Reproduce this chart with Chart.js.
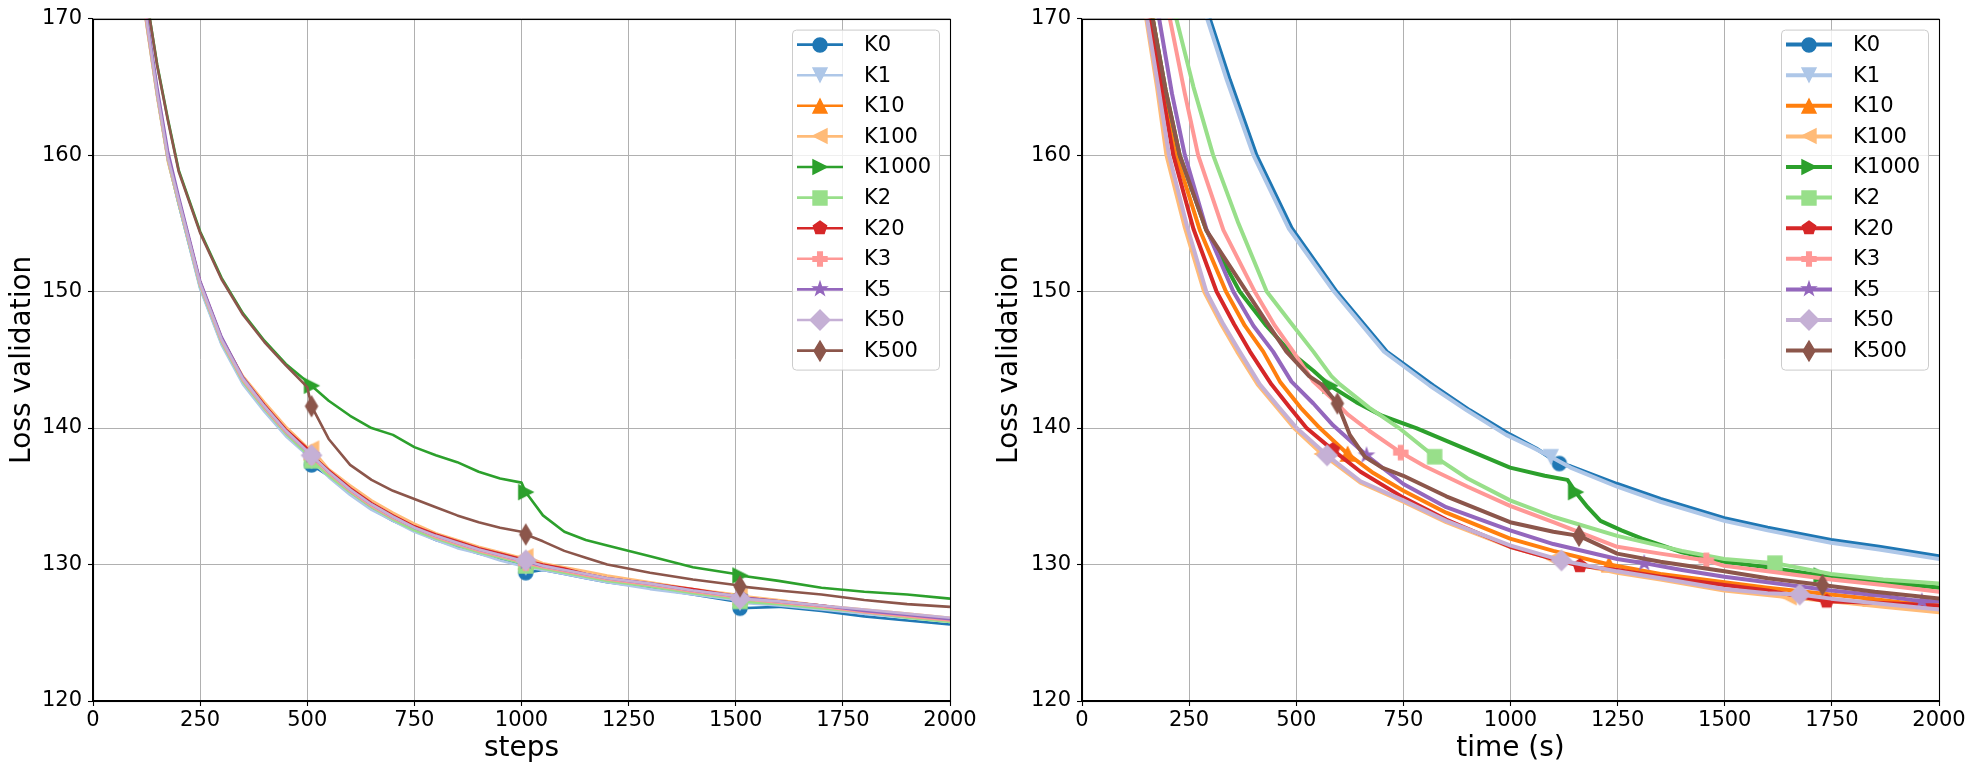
<!DOCTYPE html>
<html>
<head>
<meta charset="utf-8">
<script src="https://cdn.jsdelivr.net/npm/chart.js@4.4.1/dist/chart.umd.min.js"></script>
<style>
  html, body { margin: 0; padding: 0; background: #fff; }
  #wrap { position: relative; width: 1975px; height: 774px; }
  .pane { position: absolute; top: 0; height: 774px; }
  #leftPane { left: 0; width: 987px; }
  #rightPane { left: 987px; width: 988px; }
</style>
</head>
<body>
<div id="wrap">
  <div class="pane" id="leftPane"><canvas id="stepsChart"></canvas></div>
  <div class="pane" id="rightPane"><canvas id="timeChart"></canvas></div>
</div>
<script>
// ---- series ----
const seriesNames = ['K0', 'K1', 'K10', 'K100', 'K1000', 'K2', 'K20', 'K3', 'K5', 'K50', 'K500'];
const seriesColors = ['#1f77b4', '#aec7e8', '#ff7f0e', '#ffbb78', '#2ca02c', '#98df8a',
                      '#d62728', '#ff9896', '#9467bd', '#c5b0d5', '#8c564b'];
const seriesMarkers = ['o', 'v', '^', '<', '>', 's', 'p', 'P', '*', 'D', 'd'];

// ---- left plot: loss vs steps ----
const steps = [100, 125, 150, 175, 200, 250, 300, 350, 400, 450, 500, 510, 550, 600, 650, 700, 750, 800, 850,
               900, 950, 1000, 1010, 1050, 1100, 1150, 1200, 1300, 1400, 1500, 1510, 1600, 1700, 1800, 1900, 2000, 2010];
const stepMarks = [510, 1010, 1510, 2010];

const stepLossK0 = [175.3, 169.6, 164.3, 159.6, 156.4, 150.3, 146.2, 143.3, 141.3, 139.5, 138.1, 137.3, 136.5, 135.2, 134.1, 133.2, 132.5, 131.8, 131.3,
                    130.8, 130.4, 130.0, 129.4, 129.6, 129.3, 129.0, 128.7, 128.3, 127.8, 127.3, 126.8, 126.9, 126.6, 126.2, 125.9, 125.6, 125.5];
const stepLossK1 = [175.4, 169.7, 164.3, 159.6, 156.4, 150.2, 146.1, 143.2, 141.2, 139.4, 138.0, 137.6, 136.4, 135.1, 134.0, 133.2, 132.4, 131.8, 131.2,
                    130.8, 130.3, 129.9, 129.8, 129.6, 129.3, 129.0, 128.7, 128.2, 127.8, 127.4, 127.2, 127.0, 126.7, 126.4, 126.1, 125.9, 125.8];
const stepLossK10 = [175.6, 169.9, 164.6, 159.9, 156.8, 150.7, 146.6, 143.7, 141.7, 139.9, 138.4, 138.2, 136.8, 135.5, 134.4, 133.6, 132.8, 132.1, 131.6,
                     131.1, 130.7, 130.3, 130.2, 129.9, 129.6, 129.3, 129.0, 128.6, 128.1, 127.7, 127.6, 127.3, 127.0, 126.6, 126.3, 126.0, 126.0];
const stepLossK100 = [175.2, 169.5, 164.2, 159.5, 156.5, 150.6, 146.5, 143.8, 141.9, 140.1, 138.6, 138.5, 137.0, 135.8, 134.7, 133.8, 133.0, 132.3, 131.8,
                      131.3, 130.9, 130.5, 130.6, 130.1, 129.8, 129.5, 129.2, 128.7, 128.2, 127.8, 127.7, 127.4, 127.0, 126.7, 126.4, 126.1, 126.1];
const stepLossK1000 = [177.0, 171.5, 166.6, 162.6, 158.9, 154.4, 151.0, 148.4, 146.4, 144.7, 143.4, 143.1, 142.0, 140.9, 140.0, 139.5, 138.6, 138.0, 137.5,
                       136.8, 136.3, 136.0, 135.3, 133.6, 132.4, 131.8, 131.4, 130.6, 129.8, 129.3, 129.2, 128.8, 128.3, 128.0, 127.8, 127.5, 127.3];
const stepLossK2 = [175.5, 169.8, 164.4, 159.7, 156.5, 150.4, 146.3, 143.4, 141.4, 139.6, 138.1, 137.6, 136.5, 135.3, 134.2, 133.3, 132.5, 131.9, 131.4,
                    130.9, 130.5, 130.1, 129.9, 129.7, 129.4, 129.1, 128.8, 128.4, 127.9, 127.5, 127.3, 127.1, 126.8, 126.5, 126.1, 125.8, 125.6];
const stepLossK20 = [175.6, 169.9, 164.6, 159.9, 156.8, 150.7, 146.6, 143.7, 141.7, 139.9, 138.5, 138.0, 136.9, 135.6, 134.5, 133.6, 132.8, 132.2, 131.7,
                     131.2, 130.8, 130.4, 130.3, 130.0, 129.7, 129.3, 129.0, 128.6, 128.2, 127.7, 127.6, 127.3, 127.0, 126.6, 126.3, 126.0, 126.0];
const stepLossK3 = [175.5, 169.8, 164.5, 159.8, 156.6, 150.5, 146.4, 143.5, 141.5, 139.7, 138.3, 137.9, 136.7, 135.4, 134.3, 133.4, 132.7, 132.0, 131.5,
                    131.0, 130.6, 130.2, 130.1, 129.8, 129.5, 129.2, 128.9, 128.5, 128.0, 127.6, 127.5, 127.2, 126.9, 126.5, 126.2, 125.9, 125.9];
const stepLossK5 = [176.0, 170.3, 165.0, 160.3, 157.0, 150.8, 146.7, 143.7, 141.6, 139.8, 138.3, 138.0, 136.8, 135.5, 134.4, 133.5, 132.7, 132.1, 131.6,
                    131.1, 130.7, 130.3, 130.2, 129.9, 129.6, 129.3, 129.0, 128.6, 128.1, 127.7, 127.6, 127.3, 127.0, 126.6, 126.3, 126.0, 126.0];
const stepLossK50 = [175.6, 169.9, 164.5, 159.8, 156.7, 150.6, 146.5, 143.6, 141.6, 139.8, 138.3, 138.0, 136.8, 135.5, 134.4, 133.5, 132.7, 132.1, 131.6,
                     131.1, 130.7, 130.3, 130.3, 129.9, 129.6, 129.3, 129.0, 128.6, 128.1, 127.7, 127.5, 127.3, 127.0, 126.7, 126.4, 126.1, 126.0];
const stepLossK500 = [177.0, 171.5, 166.5, 162.5, 158.8, 154.3, 150.9, 148.3, 146.3, 144.6, 143.0, 141.6, 139.2, 137.3, 136.2, 135.4, 134.8, 134.2, 133.6,
                      133.1, 132.7, 132.4, 132.2, 131.7, 131.0, 130.5, 130.0, 129.4, 128.9, 128.5, 128.4, 128.1, 127.8, 127.4, 127.1, 126.9, 126.8];

// ---- right plot: loss vs wall time (s) ----
const timeK0 = [265, 298, 345, 407, 490, 594, 711, 820, 905, 1000, 1060, 1114, 1140, 1249, 1350, 1499, 1600, 1748, 1860, 2002, 2040];
const timeLossK0 = [175.0, 170.0, 165.5, 160.0, 154.6, 150.0, 145.6, 143.1, 141.3, 139.5, 138.5, 137.4, 137.2, 135.9, 134.8, 133.4, 132.7, 131.8, 131.3, 130.6, 130.5];
const timeMarksK0 = [1114];

const timeK1 = [258, 292, 338, 400, 483, 588, 705, 812, 898, 990, 1050, 1094, 1140, 1249, 1350, 1499, 1600, 1748, 1860, 2002, 2040];
const timeLossK1 = [175.0, 170.0, 165.5, 160.0, 154.6, 150.0, 145.6, 143.1, 141.3, 139.5, 138.6, 137.9, 137.1, 135.7, 134.6, 133.2, 132.5, 131.6, 131.1, 130.4, 130.3];
const timeMarksK1 = [1094];

const timeK10 = [140, 165, 192, 220, 275, 336, 380, 423, 462, 510, 555, 620, 680, 750, 850, 999, 1100, 1230, 1350, 1499, 1600, 1748, 1840, 1920, 2002, 2040];
const timeLossK10 = [175.0, 170.0, 165.0, 160.0, 154.5, 150.0, 147.5, 145.6, 143.4, 141.5, 140.0, 138.1, 136.7, 135.4, 133.8, 131.9, 131.0, 130.0, 129.3, 128.7, 128.3, 127.8, 127.5, 127.2, 127.0, 126.9];
const timeMarksK10 = [620, 1230, 1840];

const timeK100 = [125, 150, 175, 197, 240, 285, 325, 362, 410, 455, 495, 560, 650, 750, 850, 999, 1100, 1249, 1350, 1499, 1650, 1748, 1870, 2002, 2040];
const timeLossK100 = [175.0, 170.0, 165.0, 160.0, 154.7, 150.0, 147.6, 145.6, 143.2, 141.5, 140.0, 138.1, 136.0, 134.6, 133.1, 131.3, 130.4, 129.4, 128.9, 128.1, 127.6, 127.3, 126.9, 126.5, 126.4];
const timeMarksK100 = [560, 1100, 1650];

const timeK1000 = [140, 165, 195, 228, 290, 368, 430, 485, 540, 579, 640, 700, 780, 870, 999, 1080, 1133, 1152, 1180, 1210,
                   1259, 1307, 1400, 1499, 1600, 1725, 1850, 2002, 2040];
const timeLossK1000 = [175.0, 170.0, 164.8, 160.0, 154.5, 150.0, 147.5, 145.6, 144.2, 143.1, 141.9, 140.9, 140.0, 138.8, 137.1, 136.5, 136.2, 135.3, 134.2, 133.2,
                       132.5, 131.9, 130.9, 130.2, 129.8, 129.2, 128.8, 128.3, 128.2];
const timeMarksK1000 = [579, 1152, 1725];

const timeK2 = [190, 220, 260, 306, 365, 431, 485, 540, 582, 602, 670, 740, 823, 900, 999, 1100, 1249, 1400, 1499, 1617, 1748, 1870, 2002, 2040];
const timeLossK2 = [175.0, 170.0, 165.0, 160.0, 155.0, 150.0, 147.8, 145.6, 143.8, 143.2, 141.5, 140.0, 137.9, 136.3, 134.7, 133.5, 132.1, 131.0, 130.4, 130.1, 129.3, 128.9, 128.6, 128.5];
const timeMarksK2 = [823, 1617];

const timeK20 = [133, 158, 185, 213, 260, 314, 355, 392, 442, 485, 524, 585, 650, 750, 850, 999, 1100, 1162, 1249, 1350, 1499, 1600, 1738, 1850, 2002, 2040];
const timeLossK20 = [175.0, 170.0, 165.0, 160.0, 154.6, 150.0, 147.6, 145.6, 143.2, 141.5, 140.0, 138.4, 136.8, 134.9, 133.3, 131.3, 130.4, 129.9, 129.6, 129.1, 128.5, 128.1, 127.3, 127.2, 127.0, 126.9];
const timeMarksK20 = [585, 1162, 1738];

const timeK3 = [175, 205, 240, 271, 330, 403, 450, 493, 540, 582, 620, 670, 744, 800, 900, 999, 1100, 1249, 1350, 1457, 1499, 1600, 1748, 1870, 2002, 2040];
const timeLossK3 = [175.0, 170.0, 164.5, 160.0, 154.5, 150.0, 147.5, 145.6, 143.4, 142.2, 141.0, 139.8, 138.2, 137.2, 135.7, 134.3, 133.1, 131.3, 130.8, 130.3, 129.9, 129.5, 128.9, 128.5, 128.0, 127.9];
const timeMarksK3 = [744, 1457];

const timeK5 = [155, 180, 210, 240, 290, 353, 400, 446, 489, 540, 586, 664, 750, 850, 999, 1100, 1249, 1312, 1400, 1499, 1600, 1748, 1870, 1960, 2002, 2040];
const timeLossK5 = [175.0, 170.0, 164.5, 160.0, 154.6, 150.0, 147.5, 145.6, 143.4, 141.8, 140.2, 138.0, 135.9, 134.2, 132.5, 131.5, 130.4, 130.1, 129.6, 129.1, 128.7, 128.1, 127.7, 127.3, 127.3, 127.2];
const timeMarksK5 = [664, 1312, 1960];

const timeK50 = [127, 152, 178, 203, 245, 290, 330, 368, 415, 460, 501, 572, 650, 750, 850, 999, 1119, 1249, 1350, 1499, 1600, 1675, 1748, 1870, 2002, 2040];
const timeLossK50 = [175.0, 170.0, 165.0, 160.0, 154.8, 150.0, 147.6, 145.6, 143.2, 141.5, 140.0, 138.0, 136.1, 134.7, 133.2, 131.4, 130.3, 129.5, 129.0, 128.2, 127.9, 127.8, 127.5, 127.1, 126.7, 126.6];
const timeMarksK50 = [572, 1119, 1675];

const timeK500 = [140, 165, 195, 228, 290, 384, 430, 477, 530, 559, 596, 625, 660, 700, 750, 850, 999, 1100, 1160, 1249, 1350, 1499, 1600, 1728, 1850, 2002, 2040];
const timeLossK500 = [175.0, 170.0, 164.8, 160.0, 154.5, 150.0, 147.8, 145.6, 143.8, 143.2, 141.8, 139.5, 137.9, 137.1, 136.5, 135.0, 133.1, 132.4, 132.1, 130.8, 130.2, 129.5, 129.0, 128.5, 128.0, 127.5, 127.4];
const timeMarksK500 = [596, 1160, 1728];

// axis ticks
const xTickStep = 250;
const yTicks = [120, 130, 140, 150, 160, 170];

// tables the chart code walks over (same order as seriesNames)
const stepLoss = [stepLossK0, stepLossK1, stepLossK10, stepLossK100, stepLossK1000, stepLossK2,
                  stepLossK20, stepLossK3, stepLossK5, stepLossK50, stepLossK500];
const times = [timeK0, timeK1, timeK10, timeK100, timeK1000, timeK2, timeK20, timeK3, timeK5, timeK50, timeK500];
const timeLoss = [timeLossK0, timeLossK1, timeLossK10, timeLossK100, timeLossK1000, timeLossK2,
                  timeLossK20, timeLossK3, timeLossK5, timeLossK50, timeLossK500];
const timeMarks = [timeMarksK0, timeMarksK1, timeMarksK10, timeMarksK100, timeMarksK1000, timeMarksK2,
                   timeMarksK20, timeMarksK3, timeMarksK5, timeMarksK50, timeMarksK500];

// ---- matplotlib-like marker glyphs ----
const MS = 14;   // marker size in px

function polyPath(g, pts) {
  g.moveTo(pts[0][0], pts[0][1]);
  for (let i = 1; i < pts.length; i++) g.lineTo(pts[i][0], pts[i][1]);
  g.closePath();
}

function regularPts(n, r, inner) {
  const pts = [];
  const count = inner ? n * 2 : n;
  for (let i = 0; i < count; i++) {
    const a = -Math.PI / 2 + i * Math.PI * 2 / count;
    const rr = inner && i % 2 ? r * inner : r;
    pts.push([rr * Math.cos(a), rr * Math.sin(a)]);
  }
  return pts;
}

function makeMarker(shape, color) {
  const n = 28;
  const c = document.createElement('canvas');
  c.width = n; c.height = n;
  const g = c.getContext('2d');
  g.translate(n / 2, n / 2);
  g.fillStyle = color;
  g.strokeStyle = color;
  g.lineWidth = 1.4;
  g.lineJoin = 'miter';
  const h = MS / 2;
  const d = MS * Math.SQRT1_2;
  g.beginPath();
  switch (shape) {
    case 'o': g.arc(0, 0, h, 0, Math.PI * 2); break;
    case '^': polyPath(g, [[0, -h], [-h, h], [h, h]]); break;
    case 'v': polyPath(g, [[0, h], [-h, -h], [h, -h]]); break;
    case '<': polyPath(g, [[-h, 0], [h, -h], [h, h]]); break;
    case '>': polyPath(g, [[h, 0], [-h, -h], [-h, h]]); break;
    case 's': polyPath(g, [[-h, -h], [h, -h], [h, h], [-h, h]]); break;
    case 'D': polyPath(g, [[0, -d], [d, 0], [0, d], [-d, 0]]); break;
    case 'd': polyPath(g, [[0, -d], [0.6 * d, 0], [0, d], [-0.6 * d, 0]]); break;
    case 'p': polyPath(g, regularPts(5, h)); break;
    case '*': polyPath(g, regularPts(5, h, 0.381966)); break;
    case 'P': {
      const a = MS / 6, b = MS / 2;
      polyPath(g, [[-a, -b], [a, -b], [a, -a], [b, -a], [b, a], [a, a], [a, b], [-a, b], [-a, a], [-b, a], [-b, -a], [-a, -a]]);
      break;
    }
  }
  g.fill();
  g.stroke();
  return c;
}

const markerImgs = seriesNames.map((_, i) => makeMarker(seriesMarkers[i], seriesColors[i]));

// ---- plugins ----
const framePlugin = {
  id: 'frame',
  afterDatasetsDraw(chart) {
    const g = chart.ctx, a = chart.chartArea;
    g.save();
    g.strokeStyle = '#000';
    g.lineWidth = 1.1;
    g.strokeRect(Math.round(a.left) + 0.5, Math.round(a.top) + 0.5,
                 Math.round(a.right - a.left), Math.round(a.bottom - a.top));
    g.restore();
  }
};

function boxLegend(lineWidth) {
  return {
    id: 'boxLegend',
    afterDraw(chart) {
      const g = chart.ctx, a = chart.chartArea;
      const w = 147, h = 340, rowH = 30.6;
      const x0 = a.right - 11 - w, y0 = a.top + 11;
      g.save();
      g.beginPath();
      g.roundRect(x0 + 0.5, y0 + 0.5, w, h, 4);
      g.fillStyle = 'rgba(255,255,255,0.8)';
      g.fill();
      g.strokeStyle = '#cccccc';
      g.lineWidth = 1;
      g.stroke();
      chart.data.datasets.forEach((ds, i) => {
        const cy = y0 + 15 + i * rowH;
        g.beginPath();
        g.moveTo(x0 + 5, cy);
        g.lineTo(x0 + 51, cy);
        g.strokeStyle = ds.borderColor;
        g.lineWidth = lineWidth;
        g.stroke();
        const img = markerImgs[i];
        g.drawImage(img, Math.round(x0 + 28 - img.width / 2), Math.round(cy - img.height / 2));
        g.fillStyle = '#000';
        g.font = '21px "DejaVu Sans"';
        g.textBaseline = 'middle';
        g.textAlign = 'left';
        g.fillText(ds.label, x0 + 72, cy + 1);
      });
      g.restore();
    }
  };
}

// ---- chart builder ----
function buildChart(canvasId, datasets, xTitle, yWidth, padRight, lineWidth) {
  const tickFont = { family: 'DejaVu Sans', size: 21 };
  const titleFont = { family: 'DejaVu Sans', size: 28 };
  return new Chart(document.getElementById(canvasId), {
    type: 'line',
    data: { datasets },
    options: {
      responsive: true,
      maintainAspectRatio: false,
      animation: false,
      devicePixelRatio: 1,
      events: [],
      layout: { padding: { top: 17, right: padRight, left: 0, bottom: 0 } },
      elements: {
        line: { tension: 0, borderJoinStyle: 'round', borderCapStyle: 'butt' },
        point: { borderWidth: 0, hitRadius: 0, hoverRadius: 0 }
      },
      plugins: { legend: { display: false }, tooltip: { enabled: false } },
      scales: {
        x: {
          type: 'linear',
          min: 0,
          max: 2000,
          afterFit: (scale) => { scale.height = 73; },
          ticks: { stepSize: xTickStep, autoSkip: false, color: '#000', font: tickFont, padding: 2, maxRotation: 0,
                   callback: (v) => String(v) },
          grid: { color: '#b0b0b0', lineWidth: 1, tickColor: '#000', tickLength: 5, tickWidth: 1.1 },
          border: { display: true, color: '#000', width: 1.1 },
          title: { display: true, text: xTitle, color: '#000', font: titleFont, padding: { top: 0, bottom: 8 } }
        },
        y: {
          type: 'linear',
          min: yTicks[0],
          max: yTicks[yTicks.length - 1],
          afterFit: (scale) => { scale.width = yWidth; },
          afterBuildTicks: (scale) => { scale.ticks = yTicks.map(v => ({ value: v })); },
          ticks: { color: '#000', font: tickFont, padding: 6, callback: (v) => String(v) },
          grid: { color: '#b0b0b0', lineWidth: 1, tickColor: '#000', tickLength: 5, tickWidth: 1.1 },
          border: { display: true, color: '#000', width: 1.1 },
          title: { display: true, text: 'Loss validation', color: '#000', font: titleFont, padding: { top: 6, bottom: 0 } }
        }
      }
    },
    plugins: [framePlugin, boxLegend(lineWidth)]
  });
}

const stepsDatasets = seriesNames.map((name, i) => ({
  label: name,
  data: steps.map((s, k) => ({ x: s, y: stepLoss[i][k] })),
  borderColor: seriesColors[i],
  backgroundColor: seriesColors[i],
  borderWidth: 2.6,
  pointStyle: markerImgs[i],
  pointRadius: (ctx) => (ctx.raw && stepMarks.includes(ctx.raw.x)) ? 7 : 0,
  order: seriesNames.length - i
}));

const timeDatasets = seriesNames.map((name, i) => ({
  label: name,
  data: times[i].map((t, k) => ({ x: t, y: timeLoss[i][k] })),
  borderColor: seriesColors[i],
  backgroundColor: seriesColors[i],
  borderWidth: 4,
  pointStyle: markerImgs[i],
  pointRadius: (ctx) => (ctx.raw && timeMarks[i].includes(ctx.raw.x)) ? 7 : 0,
  order: seriesNames.length - i
}));

buildChart('stepsChart', stepsDatasets, 'steps', 93, 37, 2.6);
buildChart('timeChart', timeDatasets, 'time (s)', 95, 36, 4);
</script>
</body>
</html>
